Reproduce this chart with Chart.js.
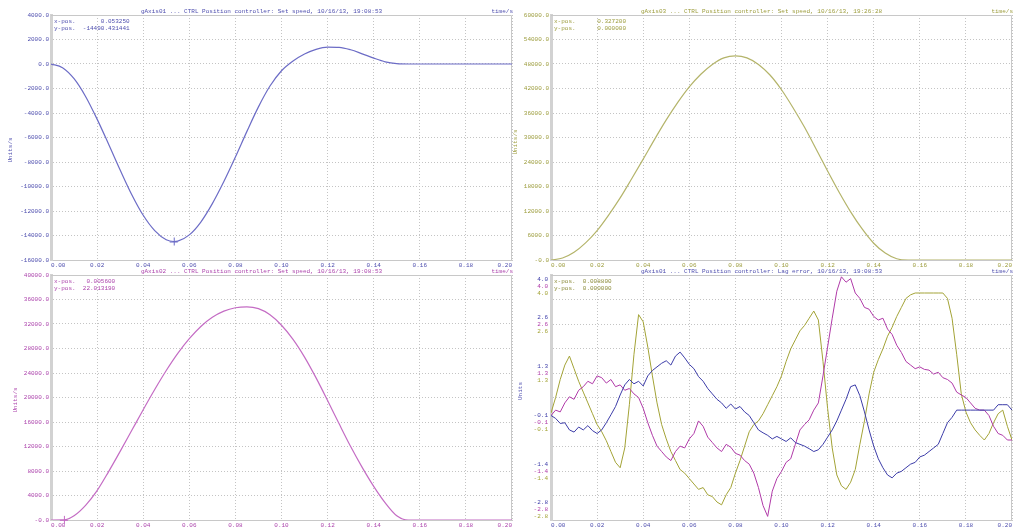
<!DOCTYPE html>
<html>
<head>
<meta charset="utf-8">
<title>gAxis trace</title>
<script src="https://cdn.jsdelivr.net/npm/chart.js@4.4.1/dist/chart.umd.min.js"></script>
<style>
  html, body { margin: 0; padding: 0; background: #ffffff; }
  body { position: relative; width: 1020px; height: 531px; overflow: hidden; }
  canvas { position: absolute; }
</style>
</head>
<body>
<canvas id="p1" width="520" height="272" style="left:0px;top:0px"></canvas>
<canvas id="p2" width="520" height="272" style="left:500px;top:0px"></canvas>
<canvas id="p3" width="520" height="272" style="left:0px;top:260px"></canvas>
<canvas id="p4" width="520" height="272" style="left:500px;top:260px"></canvas>
<script>
// ---- time axis ----
const xTickValues = [0, 0.02, 0.04, 0.06, 0.08, 0.10, 0.12, 0.14, 0.16, 0.18, 0.20];
const xTickLabels = ['0.00', '0.02', '0.04', '0.06', '0.08', '0.10', '0.12', '0.14', '0.16', '0.18', '0.20'];

// ---- gAxis01 set speed ----
const axis01Time = [0, 0.005, 0.01, 0.015, 0.02, 0.025, 0.03, 0.035, 0.04, 0.045, 0.05, 0.05325,
  0.055, 0.06, 0.065, 0.07, 0.075, 0.08, 0.085, 0.09, 0.095, 0.10, 0.105, 0.11, 0.115, 0.12,
  0.125, 0.13, 0.135, 0.14, 0.145, 0.15, 0.155, 0.16, 0.165, 0.17, 0.175, 0.18, 0.185, 0.19, 0.195, 0.20];
const axis01Speed = [0, -300, -1200, -2650, -4500, -6550, -8650, -10650, -12350, -13600, -14350, -14490.431441,
  -14460, -13950, -12900, -11400, -9600, -7600, -5500, -3500, -1800, -550, 250, 820, 1200, 1380,
  1360, 1160, 830, 480, 180, 30, 0, 0, 0, 0, 0, 0, 0, 0, 0, 0];
const axis01TickValues = [4000, 2000, 0, -2000, -4000, -6000, -8000, -10000, -12000, -14000, -16000];
const axis01TickLabels = ['4000.0', '2000.0', '0.0', '-2000.0', '-4000.0', '-6000.0', '-8000.0', '-10000.0', '-12000.0', '-14000.0', '-16000.0'];

// ---- gAxis03 set speed ----
const axis03Time = [0, 0.005, 0.01, 0.015, 0.02, 0.025, 0.03, 0.035, 0.04, 0.045, 0.05, 0.055,
  0.06, 0.065, 0.07, 0.075, 0.08, 0.085, 0.09, 0.095, 0.10, 0.105, 0.11, 0.115, 0.12, 0.125,
  0.13, 0.135, 0.14, 0.145, 0.15, 0.155, 0.16, 0.165, 0.17, 0.175, 0.18, 0.185, 0.19, 0.195, 0.20];
const axis03Speed = [0, 480, 1900, 4200, 7200, 11000, 15200, 19900, 24700, 29600, 34300, 38600,
  42400, 45500, 47900, 49500, 50000, 49500, 47900, 45300, 41700, 37300, 32500, 27200, 21800, 16600,
  11800, 7600, 4100, 1700, 300, 0, 0, 0, 0, 0, 0, 0, 0, 0, 0];
const axis03TickValues = [60000, 54000, 48000, 42000, 36000, 30000, 24000, 18000, 12000, 6000, 0];
const axis03TickLabels = ['60000.0', '54000.0', '48000.0', '42000.0', '36000.0', '30000.0', '24000.0', '18000.0', '12000.0', '6000.0', '-0.0'];

// ---- gAxis02 set speed ----
const axis02Time = [0, 0.0056, 0.01, 0.015, 0.02, 0.025, 0.03, 0.035, 0.04, 0.045, 0.05, 0.055,
  0.06, 0.065, 0.07, 0.075, 0.08, 0.085, 0.09, 0.095, 0.10, 0.105, 0.11, 0.115, 0.12, 0.125,
  0.13, 0.135, 0.14, 0.145, 0.15, 0.155, 0.16, 0.165, 0.17, 0.175, 0.18, 0.185, 0.19, 0.195, 0.20];
const axis02Speed = [0, 22.01319, 700, 2400, 4800, 7900, 11200, 14600, 18000, 21300, 24400, 27200,
  29600, 31600, 33100, 34100, 34650, 34800, 34500, 33500, 31800, 29500, 26600, 23200, 19500, 15700,
  12000, 8600, 5500, 2800, 700, 0, 0, 0, 0, 0, 0, 0, 0, 0, 0];
const axis02TickValues = [40000, 36000, 32000, 28000, 24000, 20000, 16000, 12000, 8000, 4000, 0];
const axis02TickLabels = ['40000.0', '36000.0', '32000.0', '28000.0', '24000.0', '20000.0', '16000.0', '12000.0', '8000.0', '4000.0', '-0.0'];

// ---- lag error, three axes ----
const lagTime = [0.000, 0.002, 0.004, 0.006, 0.008, 0.010, 0.012, 0.014, 0.016, 0.018,
  0.020, 0.022, 0.024, 0.026, 0.028, 0.030, 0.032, 0.034, 0.036, 0.038,
  0.040, 0.042, 0.044, 0.046, 0.048, 0.050, 0.052, 0.054, 0.056, 0.058,
  0.060, 0.062, 0.064, 0.066, 0.068, 0.070, 0.072, 0.074, 0.076, 0.078,
  0.080, 0.082, 0.084, 0.086, 0.088, 0.090, 0.092, 0.094, 0.096, 0.098,
  0.100, 0.102, 0.104, 0.106, 0.108, 0.110, 0.112, 0.114, 0.116, 0.118,
  0.120, 0.122, 0.124, 0.126, 0.128, 0.130, 0.132, 0.134, 0.136, 0.138,
  0.140, 0.142, 0.144, 0.146, 0.148, 0.150, 0.152, 0.154, 0.156, 0.158,
  0.160, 0.162, 0.164, 0.166, 0.168, 0.170, 0.172, 0.174, 0.176, 0.178,
  0.180, 0.182, 0.184, 0.186, 0.188, 0.190, 0.192, 0.194, 0.196, 0.198, 0.200];
const lagAxis01 = [0.10, 0.02, -0.12, -0.10, -0.30, -0.36, -0.22, -0.30, -0.18, -0.32,
  -0.40, -0.30, -0.10, 0.12, 0.35, 0.67, 0.95, 1.10, 0.98, 1.05,
  0.92, 1.20, 1.35, 1.45, 1.55, 1.62, 1.50, 1.75, 1.86, 1.70,
  1.52, 1.40, 1.18, 1.05, 0.85, 0.70, 0.55, 0.45, 0.30, 0.42,
  0.28, 0.35, 0.20, 0.10, -0.10, -0.30, -0.38, -0.45, -0.55, -0.48,
  -0.55, -0.62, -0.52, -0.65, -0.70, -0.75, -0.82, -0.90, -0.85, -0.70,
  -0.50, -0.30, -0.05, 0.25, 0.55, 0.90, 0.95, 0.65, 0.20, -0.30,
  -0.75, -1.10, -1.35, -1.55, -1.63, -1.50, -1.45, -1.35, -1.25, -1.20,
  -1.05, -1.00, -0.90, -0.80, -0.70, -0.40, -0.10, 0.05, 0.25, 0.25,
  0.25, 0.25, 0.25, 0.25, 0.25, 0.25, 0.25, 0.40, 0.40, 0.40, 0.25];
const lagAxis02 = [0.10, 0.25, 0.20, 0.45, 0.62, 0.55, 0.80, 0.90, 1.05, 0.98,
  1.20, 1.15, 1.00, 1.10, 0.90, 0.95, 0.80, 0.85, 0.70, 0.60,
  0.30, -0.10, -0.45, -0.75, -0.90, -1.05, -1.15, -0.90, -0.75, -0.80,
  -0.55, -0.40, -0.05, -0.20, -0.50, -0.65, -0.80, -0.90, -0.70, -0.78,
  -0.95, -1.00, -1.15, -1.25, -1.50, -1.90, -2.40, -2.70, -2.00, -1.65,
  -1.45, -1.20, -1.10, -0.70, -0.30, -0.15, -0.02, 0.25, 0.45, 1.20,
  2.00, 2.80, 3.55, 3.95, 3.80, 3.90, 3.50, 3.35, 3.10, 3.05,
  2.85, 2.75, 2.80, 2.50, 2.35, 2.05, 1.85, 1.60, 1.50, 1.40,
  1.45, 1.38, 1.36, 1.25, 1.30, 1.15, 1.10, 1.00, 0.75, 0.67,
  0.60, 0.45, 0.30, 0.25, 0.25, 0.10, -0.20, -0.40, -0.45, -0.58, -0.58];
const lagAxis03 = [0.17, 0.60, 1.10, 1.50, 1.75, 1.40, 1.05, 0.75, 0.45, 0.15,
  -0.15, -0.35, -0.60, -0.90, -1.20, -1.35, -0.80, 0.40, 1.80, 2.90,
  2.70, 2.00, 1.20, 0.45, -0.15, -0.55, -0.90, -1.15, -1.40, -1.50,
  -1.65, -1.80, -1.95, -1.90, -2.10, -2.15, -2.30, -2.38, -2.10, -1.90,
  -1.50, -1.15, -0.75, -0.35, -0.15, -0.05, 0.15, 0.40, 0.65, 0.90,
  1.20, 1.60, 1.95, 2.20, 2.45, 2.60, 2.80, 3.00, 2.75, 1.60,
  0.30, -0.80, -1.55, -1.85, -1.95, -1.75, -1.40, -0.70, -0.05, 0.70,
  1.30, 1.65, 1.95, 2.30, 2.55, 2.85, 3.10, 3.35, 3.45, 3.50,
  3.50, 3.50, 3.50, 3.50, 3.50, 3.50, 3.35, 2.80, 1.80, 0.70,
  0.20, -0.10, -0.30, -0.45, -0.58, -0.40, -0.10, 0.15, 0.25, -0.20, -0.58];
const lagTickValues = [4.0, 3.32, 2.64, 1.96, 1.28, 0.60, -0.08, -0.76, -1.44, -2.12, -2.8];
const lagTickLabels = ['4.0', '', '2.6', '', '1.3', '', '-0.1', '', '-1.4', '', '-2.8'];

// ---- styling ----
const FONT_FAMILY = '"Liberation Mono", "DejaVu Sans Mono", monospace';
const FONT_SIZE = 6;
const GRID = '#c4c4c4';
const FRAME = '#c8c8c8';
const BLUE_TEXT = '#4e4eae';
const OLIVE_TEXT = '#9c9c3c';
const MAGENTA_TEXT = '#ac44ac';
const LAG_COLORS = ['#3c3ca8', '#b03aa8', '#a3a336'];

Chart.defaults.font.family = FONT_FAMILY;
Chart.defaults.font.size = FONT_SIZE;
Chart.defaults.animation = false;

function points(ts, vs) {
  return ts.map((t, i) => ({ x: t, y: vs[i] }));
}

// Frame, titles, cursor read-out and axis unit for one trace window
function decorPlugin(spec) {
  return {
    id: 'decor',
    beforeDatasetsDraw(chart) {
      const { ctx, chartArea: a } = chart;
      ctx.save();
      ctx.strokeStyle = FRAME;
      ctx.lineWidth = 1;
      ctx.beginPath();
      ctx.moveTo(a.left, a.top + 0.5);
      ctx.lineTo(a.right - 0.5, a.top + 0.5);
      ctx.lineTo(a.right - 0.5, a.bottom);
      ctx.stroke();
      ctx.restore();
    },
    afterDraw(chart) {
      const { ctx, chartArea: a } = chart;
      const font = FONT_SIZE + 'px ' + FONT_FAMILY;
      ctx.save();
      ctx.font = font;
      ctx.textBaseline = 'middle';
      ctx.fillStyle = spec.textColor;
      ctx.textAlign = 'center';
      ctx.fillText(spec.title, (a.left + a.right) / 2 - 20, a.top - 3.5);
      ctx.textAlign = 'right';
      ctx.fillText('time/s', a.right + 1, a.top - 3.5);

      ctx.textAlign = 'left';
      ctx.fillStyle = spec.cursorColor || spec.textColor;
      ctx.fillText(spec.cursor[0], a.left + 3, a.top + 6);
      ctx.fillText(spec.cursor[1], a.left + 3, a.top + 13);

      // axis unit, rotated
      ctx.save();
      ctx.fillStyle = spec.textColor;
      ctx.translate(spec.unitPos[0], spec.unitPos[1]);
      ctx.rotate(-Math.PI / 2);
      ctx.textAlign = 'center';
      ctx.fillText(spec.unit, 0, 0);
      ctx.restore();

      // stacked tick labels, one colour per axis
      if (spec.stacked) {
        const ys = chart.scales.y;
        ctx.textAlign = 'right';
        spec.stacked.values.forEach((v, i) => {
          const label = spec.stacked.labels[i];
          if (!label) return;
          let cy = ys.getPixelForValue(v);
          cy = Math.max(a.top + 11, Math.min(a.bottom - 11, cy));
          spec.stacked.colors.forEach((c, k) => {
            ctx.fillStyle = c;
            ctx.fillText(label, a.left - 3, cy + (k - 1) * 7);
          });
        });
      }

      // cursor cross
      if (spec.marker) {
        const px = chart.scales.x.getPixelForValue(spec.marker[0]);
        const py = chart.scales.y.getPixelForValue(spec.marker[1]);
        ctx.strokeStyle = spec.lineColor;
        ctx.lineWidth = 1;
        ctx.beginPath();
        ctx.moveTo(px - 4, py + 0.5); ctx.lineTo(px + 4, py + 0.5);
        ctx.moveTo(px + 0.5, py - 4); ctx.lineTo(px + 0.5, py + 4);
        ctx.stroke();
      }
      ctx.restore();
    }
  };
}

function buildPanel(id, spec) {
  return new Chart(document.getElementById(id), {
    type: 'line',
    data: { datasets: spec.datasets },
    options: {
      responsive: false,
      animation: false,
      events: [],
      layout: { padding: { left: 0, right: 8, top: 15, bottom: 0 } },
      plugins: { legend: { display: false }, tooltip: { enabled: false }, title: { display: false } },
      elements: { point: { radius: 0 }, line: { tension: 0 } },
      scales: {
        x: {
          type: 'linear', min: 0, max: 0.2,
          afterBuildTicks: s => { s.ticks = xTickValues.map(v => ({ value: v })); },
          afterFit: s => { s.height = 12; },
          grid: { color: GRID, lineWidth: 1, drawTicks: false },
          border: { display: true, color: FRAME, width: 1, dash: [1, 2] },
          ticks: {
            color: spec.textColor, padding: 2, align: 'inner', maxRotation: 0, autoSkip: false,
            callback: (v, i) => xTickLabels[i]
          }
        },
        y: {
          type: 'linear', min: spec.yMin, max: spec.yMax,
          afterBuildTicks: s => { s.ticks = spec.yTicks.map(v => ({ value: v })); },
          afterFit: s => { s.width = 51; },
          grid: { color: GRID, lineWidth: 1, drawTicks: false },
          border: { display: true, color: '#d2d2d2', width: 3, dash: [1, 2] },
          ticks: {
            color: spec.textColor, padding: 2, autoSkip: false,
            callback: v => {
              if (spec.stacked) return '';
              const i = spec.yTicks.indexOf(v);
              return i >= 0 ? spec.yLabels[i] : '';
            }
          }
        }
      }
    },
    plugins: [decorPlugin(spec)]
  });
}

const speedLine = (data, color) => ({
  data, borderColor: color, borderWidth: 1.2, fill: false, cubicInterpolationMode: 'monotone'
});

buildPanel('p1', {
  title: 'gAxis01 ... CTRL Position controller: Set speed, 10/16/13, 19:08:53',
  textColor: BLUE_TEXT, lineColor: '#6c6cc6',
  cursor: ['x-pos.       0.053250', 'y-pos.  -14490.431441'],
  unit: 'Units/s', unitPos: [10, 150],
  yMin: -16000, yMax: 4000, yTicks: axis01TickValues, yLabels: axis01TickLabels,
  marker: [0.05325, -14490.431441],
  datasets: [speedLine(points(axis01Time, axis01Speed), '#6c6cc6')]
});

buildPanel('p2', {
  title: 'gAxis03 ... CTRL Position controller: Set speed, 10/16/13, 19:26:28',
  textColor: OLIVE_TEXT, lineColor: '#b4b46a',
  cursor: ['x-pos.      0.327200', 'y-pos.      0.000000'],
  unit: 'Units/s', unitPos: [15, 142],
  yMin: 0, yMax: 60000, yTicks: axis03TickValues, yLabels: axis03TickLabels,
  datasets: [speedLine(points(axis03Time, axis03Speed), '#b4b46a')]
});

buildPanel('p3', {
  title: 'gAxis02 ... CTRL Position controller: Set speed, 10/16/13, 19:08:53',
  textColor: MAGENTA_TEXT, lineColor: '#c46cc4',
  cursor: ['x-pos.   0.005600', 'y-pos.  22.013190'],
  unit: 'Units/s', unitPos: [15, 140],
  yMin: 0, yMax: 40000, yTicks: axis02TickValues, yLabels: axis02TickLabels,
  marker: [0.0056, 22.01319],
  datasets: [speedLine(points(axis02Time, axis02Speed), '#c46cc4')]
});

buildPanel('p4', {
  title: 'gAxis01 ... CTRL Position controller: Lag error, 10/16/13, 19:08:53',
  textColor: BLUE_TEXT, cursorColor: '#8a8a38',
  cursor: ['x-pos.  0.008800', 'y-pos.  0.000000'],
  unit: 'Units', unitPos: [20, 131],
  yMin: -2.8, yMax: 4.0, yTicks: lagTickValues, yLabels: lagTickLabels,
  stacked: { values: lagTickValues, labels: lagTickLabels, colors: LAG_COLORS },
  datasets: [
    { data: points(lagTime, lagAxis01), borderColor: LAG_COLORS[0], borderWidth: 1, fill: false },
    { data: points(lagTime, lagAxis02), borderColor: LAG_COLORS[1], borderWidth: 1, fill: false },
    { data: points(lagTime, lagAxis03), borderColor: LAG_COLORS[2], borderWidth: 1, fill: false }
  ]
});
</script>
</body>
</html>
